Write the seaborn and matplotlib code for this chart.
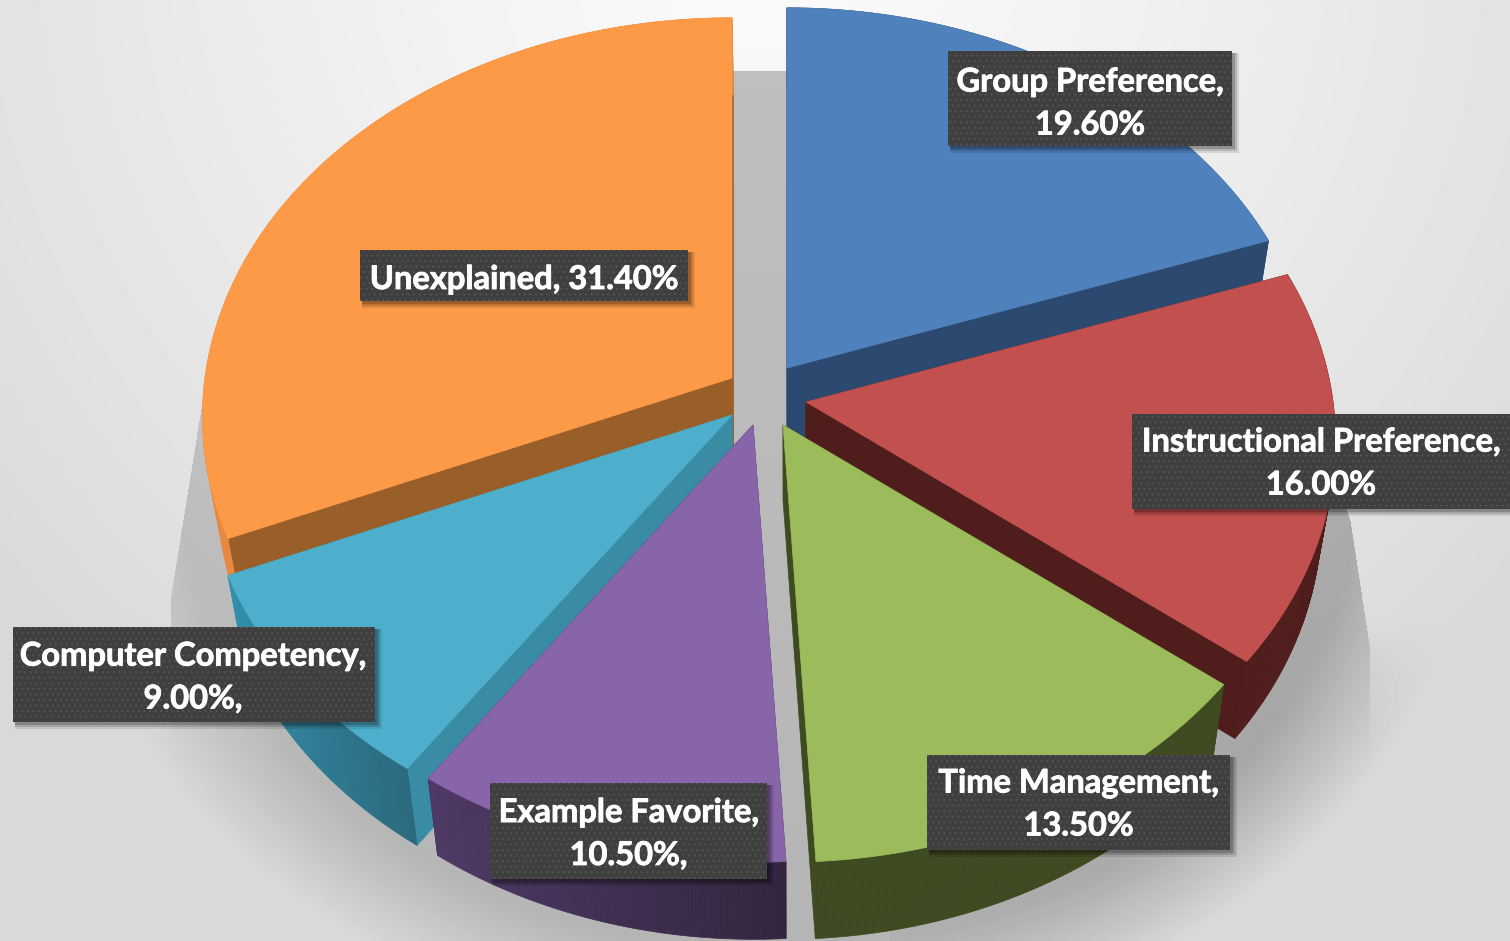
import numpy as np
import matplotlib
matplotlib.use('Agg')
import matplotlib.pyplot as plt
from matplotlib.patches import Rectangle
import matplotlib.patheffects as pe
import seaborn as sns

sns.set_theme(style='white')
plt.rcParams['font.family'] = ['Lato', 'DejaVu Sans']
plt.rcParams['hatch.linewidth'] = 0.5

# data, clockwise from 12 o'clock
categories = ['Group Preference', 'Instructional Preference', 'Time Management',
              'Example Favorite', 'Computer Competency', 'Unexplained']
shares = [19.6, 16.0, 13.5, 10.5, 9.0, 31.4]
label_texts = ['Group Preference,\n19.60%', 'Instructional Preference,\n16.00%',
               'Time Management,\n13.50%', 'Example Favorite,\n10.50%,',
               'Computer Competency,\n9.00%,', 'Unexplained, 31.40%']

# styling
top_colors = sns.color_palette(['#4F81BD', '#C1504E', '#9CBB5A', '#8765A8', '#4DAFCB', '#FD9A47'])
arc_colors = [('#2C4A70', '#2C4A70'), ('#4F1D1C', '#4F1D1C'), ('#3E4A20', '#3E4A20'),
              ('#33253F', '#4F3966'), ('#2A6A7E', '#3390AE'), ('#E8893E', '#E8893E')]
side_colors = ['#2C4A70', '#4F1D1C', '#3E4A20', '#3C2B4F', '#3A8CA5', '#9A5E28']
# pixel offset of each slice from the pie centre
explode_px = [(27, -29), (46, 5), (23, 28), (-7, 28), (-28, 18), (-28, -19)]
draw_order = [0, 5, 1, 4, 3, 2]
boxes = [(948, 51, 1232, 146), (1132, 414, 1510, 509), (927, 755, 1230, 850),
         (490, 783, 767, 879), (13, 627, 375, 722), (360, 250, 688, 301)]
text_dx = [0, 0, 0, 0, -1, 0]
text_dy = [5, 2, 2, 3, 3, 4]

cx, cy = 760, 397
rx, ry = 527, 395
persp = 0.0967
depth = 77
W, H = 1510, 941


def project(x, y):
    s = 1 / (1 + persp * y)
    return cx + rx * x * s, cy - ry * y * s


def drop(px, py):
    return px + (790 - px) * 0.026, py + depth


def background():
    yy, xx = np.mgrid[0:H, 0:W]
    r = np.hypot((xx - 760) / 1000, (yy + 60) / 1000)
    img = 0.98 - 0.13 * np.clip(r, 0, 1) ** 1.3
    # shadow under the pie: hard sides, soft towards the bottom
    left = np.interp(yy, [70, 250, 340, 600, 941], [520, 300, 212, 170, 170])
    right = np.interp(yy, [70, 250, 450, 520, 650, 941], [1020, 1200, 1325, 1350, 1370, 1370])
    inside = (xx > left) & (xx < right) & (yy > 70)
    pie_r = np.hypot((xx - 770) / 590, (yy - 470) / 480)
    near = np.clip((1.2 - pie_r) / 0.2, 0, 1)
    near = near * np.where(inside, 1, np.clip((yy - 620) / 150, 0, 1))
    hard = inside * np.clip((700 - yy) / 120, 0, 1)
    coef = 0.14 + 0.07 * np.clip((xx - 770) / 500, 0, 1)
    img = img - coef * np.maximum(hard * 0.8, near)
    gap = inside & (np.abs(xx - 770) < 120)
    img[gap] = 0.75 - 0.04 * yy[gap] / H
    return img


fig = plt.figure(figsize=(W / 100, H / 100), dpi=100)
ax = fig.add_axes([0, 0, 1, 1])
ax.imshow(background(), cmap='gray', vmin=0, vmax=1, extent=(0, W, H, 0), aspect='auto', zorder=0)
ax.set_xlim(0, W)
ax.set_ylim(H, 0)
ax.axis('off')

edges = np.cumsum([0] + shares) / np.sum(shares) * 2 * np.pi
z = 2
for i in draw_order:
    a0, a1 = edges[i], edges[i + 1]
    t = np.linspace(a0, a1, 120)
    px, py = project(np.sin(t), np.cos(t))
    tx = np.r_[cx, px] + explode_px[i][0]
    ty = np.r_[cy, py] + explode_px[i][1]
    bx, by = drop(tx, ty)
    # radial walls, then the outer wall, then the top
    for j in (1, -1):
        ax.fill([tx[0], tx[j], bx[j], bx[0]], [ty[0], ty[j], by[j], by[0]],
                color=side_colors[i], lw=0.5, zorder=z)
    shades = sns.blend_palette(list(arc_colors[i]), len(t) - 1)
    for k in range(1, len(t)):
        ax.fill([tx[k], tx[k + 1], bx[k + 1], bx[k]], [ty[k], ty[k + 1], by[k + 1], by[k]],
                color=shades[k - 1], lw=0.5, zorder=z)
    ax.fill(tx, ty, color=top_colors[i], lw=0.5, zorder=z + 0.5)
    z += 1

for n, ((x0, y0, x1, y1), txt) in enumerate(zip(boxes, label_texts)):
    for k, a in zip((7, 5, 3), (0.10, 0.14, 0.2)):
        ax.add_patch(Rectangle((x0 + 2, y0 + 2), x1 - x0 + k - 2, y1 - y0 + k - 2,
                               fc='black', ec='none', alpha=a, zorder=20))
    ax.add_patch(Rectangle((x0, y0), x1 - x0, y1 - y0, fc='#3F3F3F', ec='#5A5A5A',
                           lw=0, hatch='...', zorder=21))
    ax.text((x0 + x1) / 2 + text_dx[n], (y0 + y1) / 2 + text_dy[n], txt, color='white',
            fontsize=23.5, fontweight='bold', ha='center', va='center', linespacing=1.58, zorder=22,
            path_effects=[pe.withStroke(linewidth=0.6, foreground='white')])

fig.savefig('out.png', dpi=100)
